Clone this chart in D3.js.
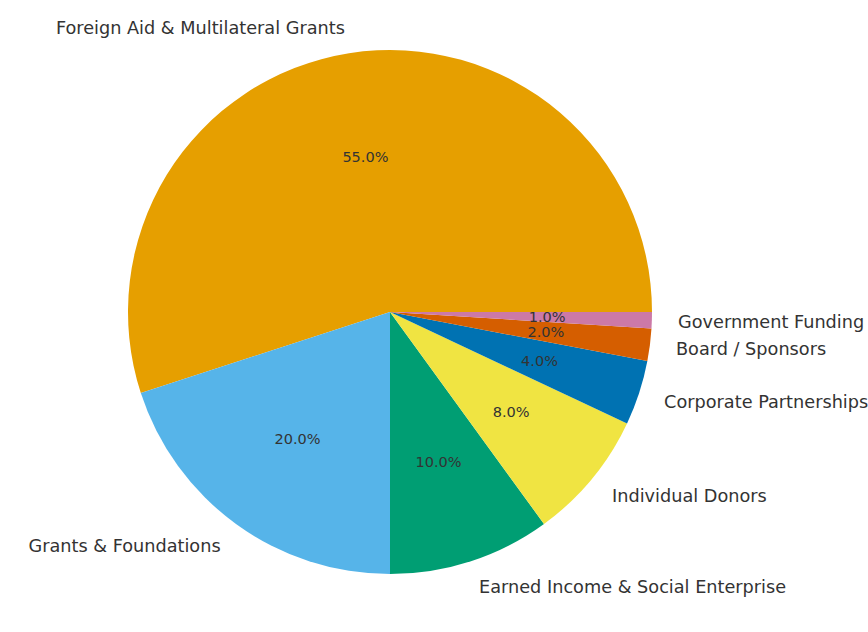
<!DOCTYPE html>
<html>
<head>
<meta charset="utf-8">
<script src="https://cdn.jsdelivr.net/npm/d3@7"></script>
<style>
  body { margin: 0; background: #fff; }
  text { font-family: "DejaVu Sans", sans-serif; fill: #333; }
</style>
</head>
<body>
<div id="chart"></div>
<script>
// funding sources, in drawing order (counterclockwise from 3 o'clock)
var categories = ["Foreign Aid & Multilateral Grants", "Grants & Foundations",
  "Earned Income & Social Enterprise", "Individual Donors",
  "Corporate Partnerships", "Board / Sponsors", "Government Funding"];
var values = [55, 20, 10, 8, 4, 2, 1];
var colors = ["#E69F00", "#56B4E9", "#009E73", "#F0E442", "#0072B2", "#D55E00", "#CC79A7"];

var WIDTH = 868, HEIGHT = 632;
var CX = 390, CY = 312, RADIUS = 262;

var svg = d3.select("#chart").append("svg")
  .attr("width", WIDTH)
  .attr("height", HEIGHT);

// matplotlib-style: start at 0 rad (east), go counterclockwise
// d3 angles are clockwise from north, so map: d3 = PI/2 - theta
var total = d3.sum(values);
var angle = d3.scaleLinear().domain([0, total]).range([0, 2 * Math.PI]);

var slices = [];
var acc = 0;
for (var i = 0; i < values.length; i++) {
  var t0 = angle(acc), t1 = angle(acc + values[i]);
  slices.push({name: categories[i], value: values[i], color: colors[i],
    startAngle: Math.PI / 2 - t1, endAngle: Math.PI / 2 - t0, mid: (t0 + t1) / 2});
  acc += values[i];
}

var arc = d3.arc().innerRadius(0).outerRadius(RADIUS);
var g = svg.append("g").attr("transform", "translate(" + CX + "," + CY + ")");

g.selectAll("path")
  .data(slices)
  .enter().append("path")
  .attr("d", arc)
  .attr("fill", function(d) { return d.color; });

// category labels at 1.1 r
g.selectAll("text.lab")
  .data(slices)
  .enter().append("text")
  .attr("class", "lab")
  .attr("x", function(d) { return 1.1 * RADIUS * Math.cos(d.mid); })
  .attr("y", function(d) { return -1.1 * RADIUS * Math.sin(d.mid); })
  .attr("dy", "0.38em")
  .attr("text-anchor", function(d) { return Math.cos(d.mid) < 0 ? "end" : "start"; })
  .style("font-size", "17.7px")
  .text(function(d) { return d.name; });

// percentages at 0.6 r
g.selectAll("text.pct")
  .data(slices)
  .enter().append("text")
  .attr("class", "pct")
  .attr("x", function(d) { return 0.6 * RADIUS * Math.cos(d.mid); })
  .attr("y", function(d) { return -0.6 * RADIUS * Math.sin(d.mid); })
  .attr("dy", "0.36em")
  .attr("text-anchor", "middle")
  .style("font-size", "14.5px")
  .text(function(d) { return (d.value / total * 100).toFixed(1) + "%"; });
</script>
</body>
</html>
